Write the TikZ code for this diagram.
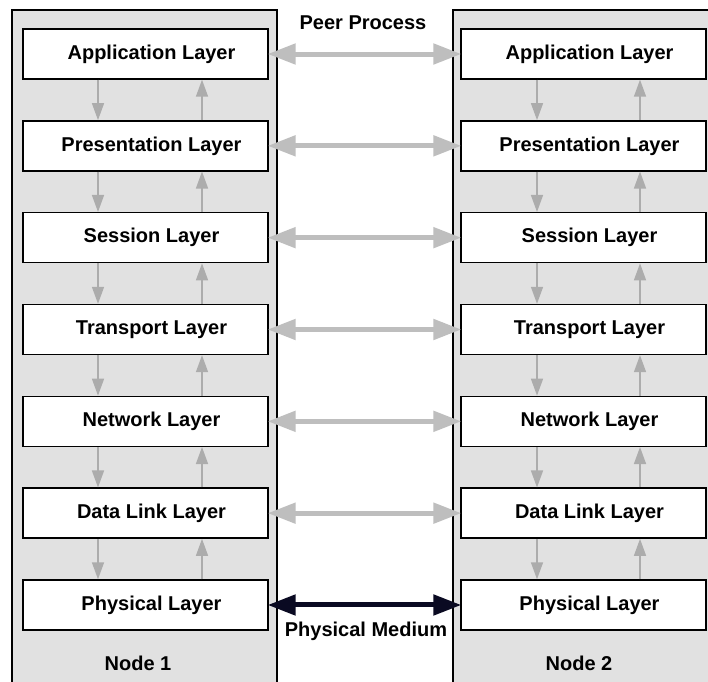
\documentclass[tikz,border=0pt]{standalone}
\usepackage{fontspec}
\setmainfont{Liberation Sans}
\usetikzlibrary{arrows.meta}
\definecolor{panelgray}{RGB}{225,225,225}
\definecolor{peergray}{RGB}{190,190,190}
\definecolor{stackgray}{RGB}{172,172,172}
\definecolor{mediumnavy}{RGB}{10,10,34}
\tikzset{
  layerbox/.style={draw=black, line width=1.4pt, fill=white, minimum width=245pt,
    minimum height=50pt, inner sep=0pt, font=\fontsize{20}{24}\selectfont\bfseries},
  caption/.style={inner sep=0pt, font=\fontsize{20}{24}\selectfont\bfseries},
  panelline/.style={draw=black, line width=1.4pt},
  stackarrow/.style={draw=stackgray, line width=1.5pt, -{Triangle[length=17pt, width=12pt]}},
  peerarrow/.style={draw=peergray, line width=5pt, {Triangle[length=28pt, width=20pt]}-{Triangle[length=28pt, width=20pt]}, shorten <=-1pt, shorten >=-1pt},
  mediumarrow/.style={draw=mediumnavy, line width=5pt, {Triangle[length=28pt, width=20pt]}-{Triangle[length=28pt, width=20pt]}, shorten <=-1pt, shorten >=-1pt},
}
\begin{document}
\begin{tikzpicture}[x=1pt, y=-1pt]
  \useasboundingbox (0,0) rectangle (708,681);
  \fill[white] (0,0) rectangle (708,681);

  % the two end-system panels (open at the bottom)
  \fill[panelgray] (12,10) rectangle (277,700);
  \draw[panelline] (12,700) -- (12,10) -- (277,10) -- (277,700);
  \fill[panelgray] (453,10) rectangle (730,700);
  \draw[panelline] (453,700) -- (453,10) -- (730,10);

  % layer stacks (labels sit slightly right of the box centre)
  \foreach \i/\name in {1/Application Layer, 2/Presentation Layer, 3/Session Layer,
      4/Transport Layer, 5/Network Layer, 6/Data Link Layer, 7/Physical Layer} {
    \node[layerbox] (L\i) at (145.5, {54 + (\i-1)*91.83}) {\hspace*{12pt}\name};
    \node[layerbox] (R\i) at (583.5, {54 + (\i-1)*91.83}) {\hspace*{12pt}\name};
  }

  % down/up arrows between adjacent layers
  \foreach \i [evaluate=\i as \j using int(\i+1)] in {1,...,6} {
    \draw[stackarrow] ([xshift=-47.5pt]L\i.south) -- ([xshift=-47.5pt]L\j.north);
    \draw[stackarrow] ([xshift=56.5pt]L\j.north) -- ([xshift=56.5pt]L\i.south);
    \draw[stackarrow] ([xshift=-46.5pt]R\i.south) -- ([xshift=-46.5pt]R\j.north);
    \draw[stackarrow] ([xshift=56.5pt]R\j.north) -- ([xshift=56.5pt]R\i.south);
  }

  % peer-to-peer links
  \foreach \i in {1,...,6} {
    \draw[peerarrow] (L\i.east) -- (R\i.west);
  }
  \draw[mediumarrow] (L7.east) -- (R7.west);

  % captions
  \node[caption] (peer) at (363,23) {Peer Process};
  \node[caption] (medium) at (366,631) {Physical Medium};
  \node[caption] (node1) at (138,663) {Node 1};
  \node[caption] (node2) at (579,663) {Node 2};
\end{tikzpicture}
\end{document}
